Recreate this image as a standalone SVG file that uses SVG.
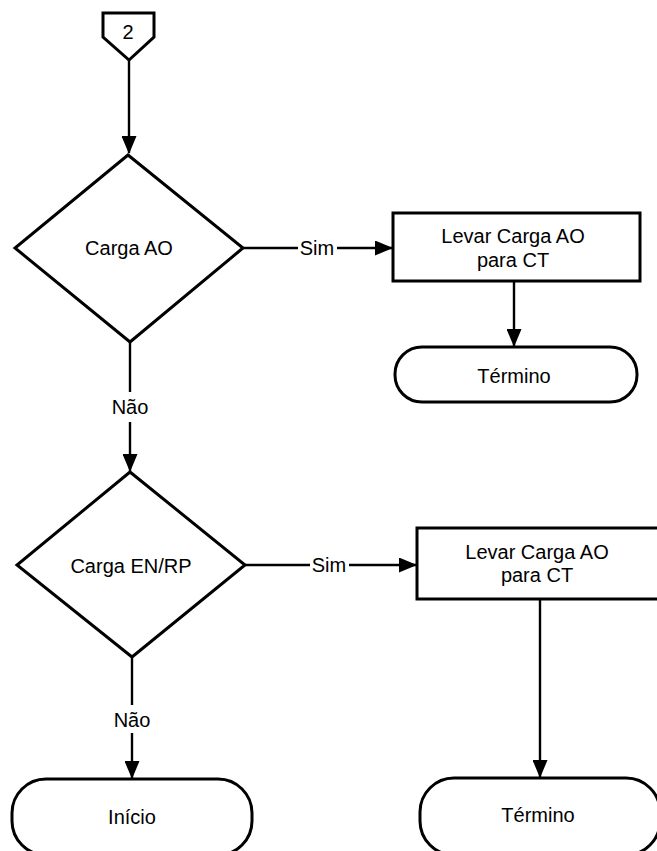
<svg xmlns="http://www.w3.org/2000/svg" width="657" height="851" viewBox="0 0 657 851">
<defs>
<style>
.shape{fill:#fff;stroke:#000;stroke-width:3;stroke-linejoin:miter}
.conn{stroke:#000;stroke-width:2.4;fill:none}
text{font-family:"Liberation Sans",Arial,sans-serif;font-size:20px;fill:#000;text-anchor:middle;dominant-baseline:central}
</style>
<marker id="arr" viewBox="0 0 18 15" refX="17" refY="7.5" markerWidth="18" markerHeight="15" markerUnits="userSpaceOnUse" orient="auto">
<path d="M0,0 L18,7.5 L0,15 Z" fill="#000"/>
</marker>
</defs>
<rect width="657" height="851" fill="#fff"/>
<g id="connectors">
<line class="conn" x1="129" y1="60" x2="129" y2="153" marker-end="url(#arr)"/>
<line class="conn" x1="243" y1="248" x2="298" y2="248"/>
<text x="317" y="248">Sim</text>
<line class="conn" x1="337" y1="248" x2="392" y2="248" marker-end="url(#arr)"/>
<line class="conn" x1="514" y1="281" x2="514" y2="346" marker-end="url(#arr)"/>
<line class="conn" x1="130" y1="342" x2="130" y2="392"/>
<text x="130" y="407">Não</text>
<line class="conn" x1="130" y1="422" x2="130" y2="471" marker-end="url(#arr)"/>
<line class="conn" x1="245" y1="565" x2="310" y2="565"/>
<text x="329" y="565">Sim</text>
<line class="conn" x1="349" y1="565" x2="416" y2="565" marker-end="url(#arr)"/>
<line class="conn" x1="540" y1="599" x2="540" y2="777" marker-end="url(#arr)"/>
<line class="conn" x1="132" y1="657" x2="132" y2="705"/>
<text x="132" y="720">Não</text>
<line class="conn" x1="132" y1="733" x2="132" y2="778" marker-end="url(#arr)"/>
</g>
<g id="connector2">
<path class="shape" d="M103,13 L154,13 L154,37 L129,60 L103,37 Z"/>
<text x="128" y="32">2</text>
</g>
<g id="decision1">
<path class="shape" d="M128,155 L243,248 L130,342 L15,248 Z"/>
<text x="129" y="248">Carga AO</text>
</g>
<g id="process1">
<rect class="shape" x="393" y="213" width="247" height="68"/>
<text x="513" y="236">Levar Carga AO</text>
<text x="513" y="260">para CT</text>
</g>
<g id="end1">
<rect class="shape" x="395" y="347" width="242" height="55" rx="27" ry="27"/>
<text x="514" y="376">Término</text>
</g>
<g id="decision2">
<path class="shape" d="M130,472 L245,565 L132,657 L17,565 Z"/>
<text x="131" y="566">Carga EN/RP</text>
</g>
<g id="process2">
<rect class="shape" x="417" y="528" width="245" height="71"/>
<text x="537" y="552">Levar Carga AO</text>
<text x="537" y="575">para CT</text>
</g>
<g id="start">
<rect class="shape" x="12" y="779" width="240" height="76" rx="34" ry="34"/>
<text x="132" y="817">Início</text>
</g>
<g id="end2">
<rect class="shape" x="420" y="778" width="240" height="77" rx="34" ry="34"/>
<text x="538" y="815">Término</text>
</g>
</svg>
